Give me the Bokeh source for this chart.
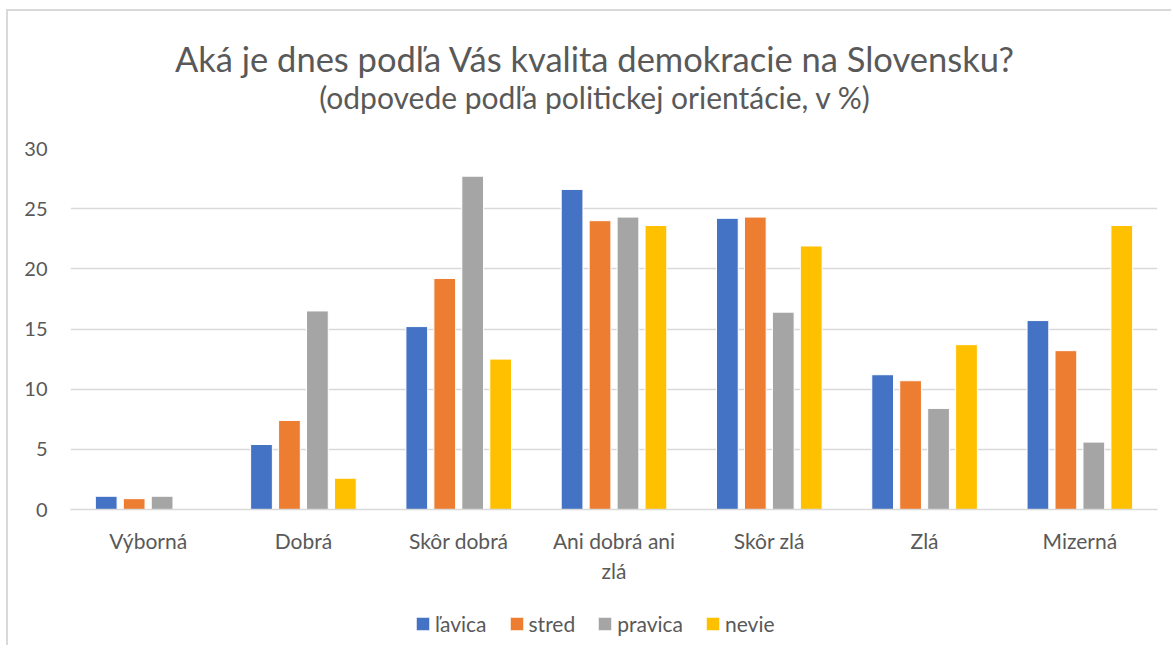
from bokeh.plotting import figure
from bokeh.models import FactorRange, Range1d, Legend, LegendItem, ColumnDataSource, FixedTicker, Div
from bokeh.layouts import column
from bokeh.transform import dodge
from bokeh.embed import file_html
from bokeh.resources import INLINE

title_text = "Aká je dnes podľa Vás kvalita demokracie na Slovensku?"
subtitle_text = "(odpovede podľa politickej orientácie, v %)"
categories = ["Výborná", "Dobrá", "Skôr dobrá", "Ani dobrá ani\nzlá", "Skôr zlá", "Zlá", "Mizerná"]
series = ["ľavica", "stred", "pravica", "nevie"]
lavica = [1.1, 5.4, 15.2, 26.6, 24.2, 11.2, 15.7]
stred = [0.9, 7.4, 19.2, 24.0, 24.3, 10.7, 13.2]
pravica = [1.1, 16.5, 27.7, 24.3, 16.4, 8.4, 5.6]
nevie = [0.0, 2.6, 12.5, 23.6, 21.9, 13.7, 23.6]
colors = ["#4472C4", "#ED7D31", "#A5A5A5", "#FFC000"]
y_ticks = [0, 5, 10, 15, 20, 25, 30]

FONT = "Lato"
GREY = "#595959"
W = 1163

header = Div(width=W, height=122, margin=0, text=(
    f'<div style="position:relative;width:{W}px;height:122px;font-family:{FONT};color:{GREY};">'
    f'<div style="position:absolute;left:10px;right:0;top:27px;text-align:center;'
    f'font-size:34.5px;line-height:42px;white-space:nowrap;">{title_text}</div>'
    f'<div style="position:absolute;left:10px;right:0;top:68px;text-align:center;'
    f'font-size:30px;line-height:36px;white-space:nowrap;">{subtitle_text}</div></div>'))

src = ColumnDataSource(dict(cat=categories, lavica=lavica, stred=stred, pravica=pravica, nevie=nevie))

p = figure(width=W, height=468, x_range=FactorRange(*categories), y_range=Range1d(0, 30),
           output_backend="svg", toolbar_location=None,
           min_border_left=62, min_border_right=14, min_border_top=15, min_border_bottom=92)
p.outline_line_color = None

keys = ["lavica", "stred", "pravica", "nevie"]
offsets = [-0.27, -0.09, 0.09, 0.27]
for k, off, c in zip(keys, offsets, colors):
    p.vbar(x=dodge("cat", off, range=p.x_range), top=k, width=0.14, source=src,
           fill_color=c, line_color="white", line_width=1)

p.xgrid.grid_line_color = None
p.ygrid.grid_line_color = "#d9d9d9"
p.ygrid.grid_line_width = 1.5
p.ygrid.ticker = FixedTicker(ticks=y_ticks)

p.yaxis.ticker = FixedTicker(ticks=y_ticks)
p.yaxis.axis_line_color = None
p.yaxis.major_tick_line_color = None
p.yaxis.minor_tick_line_color = None
p.yaxis.major_label_standoff = 17
p.yaxis.major_label_text_font = FONT
p.yaxis.major_label_text_font_size = "20px"
p.yaxis.major_label_text_color = GREY

p.xaxis.axis_line_color = "#d9d9d9"
p.xaxis.axis_line_width = 1.5
p.xaxis.major_tick_line_color = None
p.xaxis.minor_tick_line_color = None
p.xaxis.major_label_standoff = 12
p.xaxis.major_label_text_font = FONT
p.xaxis.major_label_text_font_size = "21px"
p.xaxis.major_label_text_color = GREY

# legend strip (swatch renderers sit outside the visible range)
lf = figure(width=W, height=44, x_range=Range1d(0, 1), y_range=Range1d(0, 1),
            output_backend="svg", toolbar_location=None,
            x_axis_location=None, y_axis_location=None,
            min_border_left=0, min_border_right=0, min_border_top=0, min_border_bottom=0)
lf.grid.visible = False
lf.outline_line_color = None
leg_renderers = [lf.vbar(x=[-10], top=[-10], bottom=[-11], width=0.1, fill_color=c, line_color="white")
                 for c in colors]
legend = Legend(items=[LegendItem(label=s, renderers=[r]) for s, r in zip(series, leg_renderers)],
                orientation="horizontal", location=(344, 9),
                label_text_font=FONT, label_text_font_size="21px", label_text_color=GREY,
                glyph_width=17, glyph_height=17, spacing=21, label_standoff=4,
                border_line_color=None, background_fill_alpha=0, margin=0, padding=0)
lf.add_layout(legend, "center")

layout = column(header, p, lf, spacing=0,
                styles={"margin-left": "6px", "margin-top": "9px",
                        "border-left": "2px solid #d9d9d9", "border-top": "2px solid #d9d9d9"})

open("out.html", "w").write(file_html(layout, INLINE))
